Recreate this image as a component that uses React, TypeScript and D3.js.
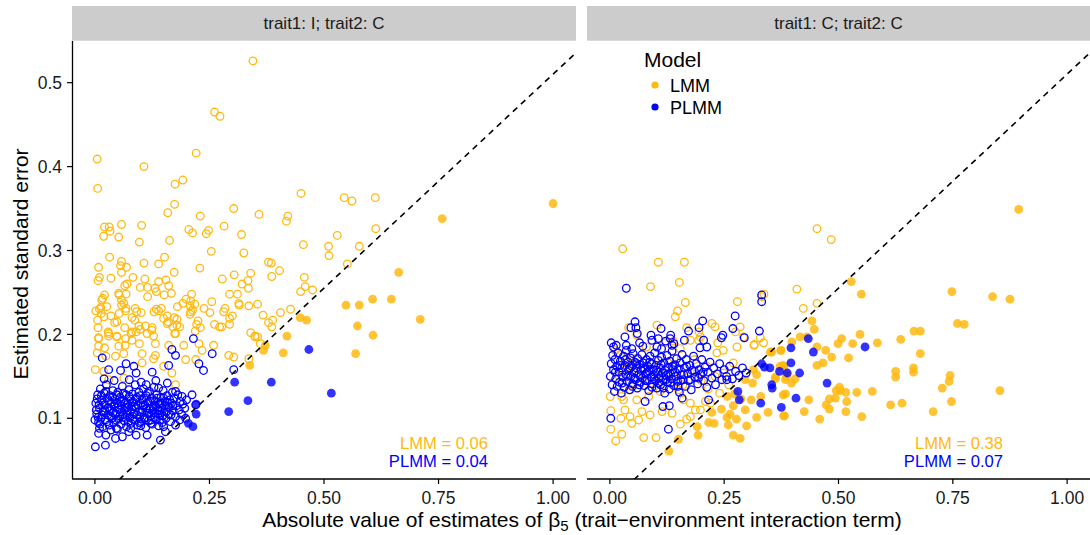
import * as d3 from 'd3';

// Absolute |beta5| estimate vs. its standard error.
// Each list is [estimate, standard error]; "Sig" lists are the filled (significant) points.

const panelLabels = ['trait1: I; trait2: C', 'trait1: C; trait2: C'];
const yTicks = [0.1, 0.2, 0.3, 0.4, 0.5];
const xTicks = [0, 0.25, 0.5, 0.75, 1];
const lmmShare = ['LMM = 0.06', 'LMM = 0.38'];
const plmmShare = ['PLMM = 0.04', 'PLMM = 0.07'];

const leftLmmOpen: [number, number][] = [
  [0.345, 0.526], [0.261, 0.465], [0.273, 0.46], [0.221, 0.416], [0.005, 0.409], [0.107, 0.4], [0.006, 0.374], [0.175, 0.379], [0.192, 0.384],
  [0.174, 0.355], [0.159, 0.345], [0.303, 0.35], [0.358, 0.343], [0.23, 0.341], [0.021, 0.328], [0.031, 0.328], [0.033, 0.323], [0.019, 0.317],
  [0.058, 0.331], [0.102, 0.33], [0.052, 0.316], [0.097, 0.31], [0.163, 0.312], [0.205, 0.325], [0.213, 0.321], [0.243, 0.32], [0.248, 0.324],
  [0.282, 0.329], [0.32, 0.319], [0.254, 0.299], [0.325, 0.297], [0.379, 0.286], [0.385, 0.285], [0.386, 0.269], [0.032, 0.292], [0.008, 0.28],
  [0.058, 0.287], [0.056, 0.282], [0.069, 0.28], [0.058, 0.274], [0.107, 0.285], [0.139, 0.284], [0.152, 0.292], [0.173, 0.274], [0.229, 0.279],
  [0.01, 0.268], [0.007, 0.264], [0.035, 0.267], [0.083, 0.268], [0.109, 0.266], [0.065, 0.258], [0.07, 0.26], [0.099, 0.256], [0.115, 0.256],
  [0.139, 0.263], [0.155, 0.265], [0.161, 0.258], [0.131, 0.255], [0.134, 0.251], [0.115, 0.245], [0.167, 0.249], [0.151, 0.247], [0.278, 0.266],
  [0.304, 0.271], [0.334, 0.264], [0.335, 0.255], [0.321, 0.26], [0.34, 0.273], [0.017, 0.243], [0.021, 0.247], [0.015, 0.241], [0.052, 0.249],
  [0.053, 0.247], [0.058, 0.241], [0.068, 0.248], [0.063, 0.237], [0.068, 0.231], [0.026, 0.233], [0.002, 0.228], [0.01, 0.23], [0.013, 0.232],
  [0.014, 0.225], [0.02, 0.221], [0.006, 0.217], [0.007, 0.208], [0.008, 0.195], [0.035, 0.222], [0.043, 0.214], [0.048, 0.215], [0.029, 0.203],
  [0.03, 0.198], [0.053, 0.225], [0.058, 0.235], [0.067, 0.228], [0.081, 0.22], [0.088, 0.231], [0.091, 0.227], [0.101, 0.226], [0.087, 0.217],
  [0.065, 0.208], [0.067, 0.195], [0.048, 0.198], [0.081, 0.203], [0.079, 0.201], [0.09, 0.203], [0.096, 0.21], [0.099, 0.206], [0.11, 0.21],
  [0.125, 0.208], [0.128, 0.198], [0.124, 0.205], [0.129, 0.227], [0.134, 0.23], [0.145, 0.231], [0.139, 0.228], [0.158, 0.222], [0.15, 0.219],
  [0.16, 0.215], [0.158, 0.213], [0.173, 0.22], [0.179, 0.218], [0.179, 0.211], [0.17, 0.209], [0.174, 0.201], [0.185, 0.209], [0.18, 0.233],
  [0.192, 0.237], [0.199, 0.242], [0.209, 0.24], [0.211, 0.248], [0.208, 0.234], [0.209, 0.227], [0.218, 0.236], [0.208, 0.224], [0.213, 0.229],
  [0.238, 0.231], [0.251, 0.226], [0.255, 0.239], [0.225, 0.216], [0.23, 0.208], [0.222, 0.212], [0.219, 0.204], [0.261, 0.212], [0.272, 0.209],
  [0.277, 0.209], [0.284, 0.231], [0.281, 0.227], [0.294, 0.248], [0.3, 0.222], [0.294, 0.219], [0.294, 0.212], [0.311, 0.248], [0.314, 0.237],
  [0.315, 0.235], [0.336, 0.234], [0.355, 0.236], [0.367, 0.223], [0.379, 0.214], [0.388, 0.217], [0.386, 0.209], [0.34, 0.202], [0.349, 0.198],
  [0.355, 0.197], [0.45, 0.368], [0.544, 0.363], [0.561, 0.359], [0.612, 0.363], [0.421, 0.341], [0.418, 0.335], [0.455, 0.307], [0.51, 0.305],
  [0.511, 0.294], [0.529, 0.318], [0.577, 0.305], [0.613, 0.326], [0.551, 0.284], [0.403, 0.276], [0.457, 0.268], [0.459, 0.257], [0.449, 0.251],
  [0.427, 0.23], [0.405, 0.226], [0.475, 0.253], [0.008, 0.196], [0.008, 0.186], [0.021, 0.184], [0.005, 0.178], [0.024, 0.174], [0.03, 0.201],
  [0.048, 0.197], [0.052, 0.186], [0.066, 0.187], [0.063, 0.177], [0.045, 0.174], [0.081, 0.193], [0.097, 0.189], [0.114, 0.201], [0.132, 0.189],
  [0.132, 0.175], [0.103, 0.177], [0.128, 0.171], [0.176, 0.201], [0.161, 0.187], [0.194, 0.187], [0.227, 0.189], [0.234, 0.181], [0.259, 0.187],
  [0.292, 0.175], [0.336, 0.171], [0.35, 0.197], [0.361, 0.189], [0.001, 0.158], [0.019, 0.156], [0.03, 0.146], [0.063, 0.148], [0.103, 0.166],
  [0.15, 0.162], [0.168, 0.154], [0.176, 0.14], [0.198, 0.17], [0.22, 0.17], [0.005, 0.11], [0.303, 0.173],
];

const leftLmmSig: [number, number][] = [
  [0.548, 0.235], [0.577, 0.235], [0.606, 0.242], [0.647, 0.242], [0.71, 0.218], [0.573, 0.21], [0.607, 0.199], [0.569, 0.177], [0.448, 0.22],
  [0.462, 0.217], [0.419, 0.198], [0.411, 0.178], [0.368, 0.181], [0.372, 0.187], [0.338, 0.163], [0.663, 0.274], [0.758, 0.338], [1.0, 0.356],
];

const leftPlmmOpen: [number, number][] = [
  [0.016, 0.172], [0.03, 0.158], [0.056, 0.157], [0.068, 0.165], [0.085, 0.162], [0.09, 0.154], [0.125, 0.155], [0.161, 0.163], [0.168, 0.182],
  [0.176, 0.175], [0.215, 0.195], [0.227, 0.165], [0.256, 0.177], [0.303, 0.158], [0.112, 0.14], [0.139, 0.136], [0.176, 0.132], [0.19, 0.126],
  [0.212, 0.128], [0.22, 0.116], [0.198, 0.1], [0.176, 0.092], [0.154, 0.084], [0.143, 0.074], [0.114, 0.08], [0.074, 0.084], [0.045, 0.076],
  [0.023, 0.068], [0.001, 0.066], [0.008, 0.082], [0.0, 0.098], [0.237, 0.157],
  [0.01, 0.088], [0.024, 0.08], [0.049, 0.087], [0.078, 0.088], [0.1, 0.091], [0.122, 0.094], [0.09, 0.08], [0.06, 0.078], [0.035, 0.086],
  [0.15, 0.09], [0.185, 0.098], [0.042, 0.145], [0.075, 0.146], [0.101, 0.143], [0.133, 0.145], [0.158, 0.142], [0.02, 0.147],
  [0.002, 0.118], [0.004, 0.105], [0.006, 0.128], [0.008, 0.095], [0.01, 0.112], [0.012, 0.135], [0.013, 0.1], [0.015, 0.122], [0.017, 0.09],
  [0.018, 0.108], [0.02, 0.13], [0.021, 0.116], [0.023, 0.098], [0.025, 0.14], [0.026, 0.124], [0.028, 0.104], [0.029, 0.113], [0.031, 0.092],
  [0.033, 0.127], [0.034, 0.109], [0.036, 0.119], [0.037, 0.1], [0.039, 0.133], [0.041, 0.095], [0.042, 0.114], [0.044, 0.123], [0.045, 0.105],
  [0.047, 0.088], [0.049, 0.118], [0.05, 0.131], [0.052, 0.099], [0.053, 0.11], [0.055, 0.125], [0.057, 0.093], [0.058, 0.115], [0.06, 0.138],
  [0.061, 0.104], [0.063, 0.121], [0.064, 0.097], [0.066, 0.112], [0.068, 0.128], [0.069, 0.09], [0.071, 0.107], [0.072, 0.117], [0.074, 0.134],
  [0.076, 0.101], [0.077, 0.123], [0.079, 0.094], [0.08, 0.111], [0.082, 0.129], [0.084, 0.105], [0.085, 0.119], [0.087, 0.098], [0.088, 0.14],
  [0.09, 0.113], [0.092, 0.125], [0.093, 0.092], [0.095, 0.108], [0.096, 0.131], [0.098, 0.102], [0.1, 0.118], [0.101, 0.096], [0.103, 0.122],
  [0.104, 0.11], [0.106, 0.135], [0.108, 0.1], [0.109, 0.116], [0.111, 0.089], [0.112, 0.127], [0.114, 0.106], [0.116, 0.119], [0.117, 0.097],
  [0.119, 0.132], [0.12, 0.111], [0.122, 0.103], [0.124, 0.124], [0.125, 0.093], [0.127, 0.114], [0.129, 0.137], [0.13, 0.107], [0.132, 0.12],
  [0.134, 0.098], [0.135, 0.128], [0.137, 0.11], [0.139, 0.091], [0.14, 0.117], [0.142, 0.104], [0.144, 0.125], [0.146, 0.112], [0.147, 0.095],
  [0.149, 0.133], [0.151, 0.108], [0.153, 0.12], [0.155, 0.1], [0.157, 0.127], [0.159, 0.114], [0.161, 0.105], [0.163, 0.122], [0.165, 0.096],
  [0.167, 0.118], [0.169, 0.131], [0.171, 0.109], [0.173, 0.124], [0.176, 0.102], [0.178, 0.115], [0.181, 0.128], [0.184, 0.11], [0.186, 0.12],
  [0.189, 0.105], [0.192, 0.117], [0.196, 0.112], [0.2, 0.122],
  [0.003, 0.11], [0.005, 0.123], [0.007, 0.101], [0.009, 0.116], [0.011, 0.093], [0.014, 0.127], [0.016, 0.104], [0.019, 0.119], [0.022, 0.109],
  [0.024, 0.132], [0.027, 0.096], [0.03, 0.121], [0.032, 0.111], [0.035, 0.102], [0.038, 0.125], [0.04, 0.107], [0.043, 0.117], [0.046, 0.098],
  [0.048, 0.128], [0.051, 0.113], [0.054, 0.103], [0.056, 0.12], [0.059, 0.108], [0.062, 0.13], [0.065, 0.101], [0.067, 0.118], [0.07, 0.113],
  [0.073, 0.096], [0.075, 0.126], [0.078, 0.108], [0.081, 0.119], [0.083, 0.099], [0.086, 0.114], [0.089, 0.123], [0.091, 0.104], [0.094, 0.116],
  [0.097, 0.095], [0.099, 0.127], [0.102, 0.107], [0.105, 0.115], [0.107, 0.124], [0.11, 0.101], [0.113, 0.112], [0.115, 0.13], [0.118, 0.106],
  [0.121, 0.12], [0.123, 0.098], [0.126, 0.109], [0.128, 0.121], [0.131, 0.101], [0.133, 0.114], [0.136, 0.124], [0.138, 0.105], [0.141, 0.109],
  [0.143, 0.098], [0.145, 0.118], [0.148, 0.103], [0.15, 0.124], [0.152, 0.115], [0.156, 0.108], [0.158, 0.119], [0.162, 0.113], [0.166, 0.104],
  [0.17, 0.115],
];

const leftPlmmSig: [number, number][] = [
  [0.467, 0.182], [0.305, 0.143], [0.385, 0.143], [0.516, 0.13], [0.334, 0.121], [0.292, 0.108], [0.221, 0.117], [0.221, 0.105], [0.204, 0.094],
  [0.214, 0.09],
];

const rightLmmOpen: [number, number][] = [
  [0.028, 0.302], [0.106, 0.286], [0.163, 0.286], [0.152, 0.262], [0.089, 0.257], [0.165, 0.238], [0.148, 0.228], [0.143, 0.221], [0.279, 0.239],
  [0.337, 0.248], [0.332, 0.245], [0.103, 0.211], [0.041, 0.208], [0.168, 0.208], [0.223, 0.213], [0.23, 0.209], [0.285, 0.209], [0.275, 0.203],
  [0.195, 0.203], [0.194, 0.193], [0.329, 0.196], [0.336, 0.19], [0.316, 0.188], [0.236, 0.19], [0.139, 0.192], [0.059, 0.199],
  [0.453, 0.326], [0.484, 0.313], [0.409, 0.254], [0.423, 0.231], [0.453, 0.237],
  [0.001, 0.126], [0.002, 0.109], [0.002, 0.087], [0.013, 0.073], [0.026, 0.081], [0.024, 0.1], [0.044, 0.102], [0.048, 0.094], [0.033, 0.11],
  [0.03, 0.122], [0.063, 0.098], [0.074, 0.077], [0.101, 0.077], [0.07, 0.108], [0.088, 0.104], [0.114, 0.108], [0.136, 0.106], [0.161, 0.122],
  [0.176, 0.118], [0.187, 0.11], [0.198, 0.11], [0.176, 0.102], [0.154, 0.093], [0.168, 0.099], [0.209, 0.12], [0.22, 0.118], [0.012, 0.181],
  [0.023, 0.176], [0.037, 0.17], [0.052, 0.158], [0.074, 0.15], [0.088, 0.142], [0.11, 0.132], [0.125, 0.146], [0.15, 0.134], [0.045, 0.134],
  [0.026, 0.126], [0.059, 0.122], [0.085, 0.126], [0.128, 0.166], [0.139, 0.154], [0.176, 0.154], [0.234, 0.178], [0.248, 0.181], [0.278, 0.185],
  [0.315, 0.187], [0.154, 0.183], [0.176, 0.193], [0.198, 0.197], [0.212, 0.162], [0.248, 0.154], [0.27, 0.166], [0.292, 0.197],
  [0.035, 0.16], [0.06, 0.172], [0.095, 0.165], [0.11, 0.15], [0.14, 0.172], [0.185, 0.17], [0.2, 0.145], [0.23, 0.15], [0.26, 0.14],
  [0.02, 0.15], [0.08, 0.185], [0.12, 0.19], [0.05, 0.14], [0.16, 0.14], [0.215, 0.135], [0.24, 0.13],
];

const rightLmmSig: [number, number][] = [
  [0.894, 0.349], [0.528, 0.263], [0.55, 0.248], [0.748, 0.251], [0.837, 0.245], [0.875, 0.242], [0.76, 0.213], [0.775, 0.212], [0.665, 0.204],
  [0.679, 0.204], [0.636, 0.194], [0.547, 0.2], [0.585, 0.19], [0.507, 0.195], [0.499, 0.189], [0.531, 0.189], [0.679, 0.177], [0.442, 0.216],
  [0.447, 0.206], [0.416, 0.197], [0.431, 0.197], [0.453, 0.185], [0.472, 0.181], [0.398, 0.191], [0.374, 0.181], [0.522, 0.172], [0.485, 0.173],
  [0.466, 0.166], [0.453, 0.163], [0.664, 0.16], [0.664, 0.155], [0.625, 0.156], [0.625, 0.149], [0.744, 0.151], [0.742, 0.144], [0.727, 0.136],
  [0.853, 0.133], [0.747, 0.12], [0.707, 0.108], [0.639, 0.118], [0.614, 0.116], [0.574, 0.132], [0.54, 0.131], [0.518, 0.12], [0.516, 0.131],
  [0.504, 0.133], [0.495, 0.133], [0.502, 0.137], [0.493, 0.124], [0.48, 0.123], [0.473, 0.116], [0.48, 0.111], [0.459, 0.099], [0.516, 0.108],
  [0.551, 0.102], [0.435, 0.122], [0.425, 0.108], [0.382, 0.103], [0.397, 0.142], [0.386, 0.149], [0.379, 0.163], [0.372, 0.162], [0.405, 0.147],
  [0.362, 0.149], [0.351, 0.179], [0.379, 0.128],
  [0.354, 0.179], [0.374, 0.181], [0.38, 0.162], [0.314, 0.158], [0.321, 0.152], [0.296, 0.146], [0.312, 0.142], [0.362, 0.147], [0.384, 0.146],
  [0.387, 0.152], [0.384, 0.129], [0.257, 0.126], [0.273, 0.129], [0.287, 0.123], [0.309, 0.122], [0.33, 0.126], [0.27, 0.115], [0.244, 0.111],
  [0.223, 0.107], [0.263, 0.105], [0.296, 0.11], [0.321, 0.101], [0.346, 0.107], [0.38, 0.103], [0.277, 0.099], [0.256, 0.101], [0.216, 0.095],
  [0.228, 0.094], [0.259, 0.092], [0.299, 0.091], [0.191, 0.09], [0.193, 0.08], [0.27, 0.08], [0.285, 0.076], [0.15, 0.075], [0.129, 0.061],
];

const rightPlmmOpen: [number, number][] = [
  [0.036, 0.255], [0.332, 0.247], [0.332, 0.239], [0.274, 0.222], [0.203, 0.216], [0.195, 0.208], [0.172, 0.204], [0.163, 0.193], [0.269, 0.207],
  [0.247, 0.199], [0.244, 0.196], [0.294, 0.196], [0.327, 0.204], [0.055, 0.215], [0.046, 0.208], [0.057, 0.208], [0.06, 0.201], [0.112, 0.207],
  [0.09, 0.199], [0.092, 0.193], [0.106, 0.195], [0.133, 0.199], [0.132, 0.195], [0.033, 0.197], [0.003, 0.19], [0.014, 0.187], [0.008, 0.185],
  [0.065, 0.19], [0.072, 0.186], [0.122, 0.192], [0.136, 0.187], [0.14, 0.189], [0.205, 0.193], [0.212, 0.185], [0.197, 0.184], [0.103, 0.185],
  [0.113, 0.183], [0.048, 0.183], [0.036, 0.187], [0.002, 0.1], [0.128, 0.087], [0.077, 0.12], [0.116, 0.114], [0.13, 0.115], [0.158, 0.124],
  [0.216, 0.122], [0.256, 0.146],
  [0.001, 0.15], [0.003, 0.165], [0.005, 0.14], [0.006, 0.175], [0.008, 0.158], [0.01, 0.132], [0.011, 0.17], [0.013, 0.147], [0.015, 0.162],
  [0.016, 0.138], [0.018, 0.178], [0.02, 0.155], [0.021, 0.143], [0.023, 0.168], [0.025, 0.13], [0.026, 0.16], [0.028, 0.149], [0.03, 0.174],
  [0.031, 0.137], [0.033, 0.163], [0.035, 0.152], [0.036, 0.181], [0.038, 0.144], [0.04, 0.167], [0.041, 0.157], [0.043, 0.134], [0.045, 0.172],
  [0.046, 0.15], [0.048, 0.162], [0.05, 0.141], [0.051, 0.177], [0.053, 0.155], [0.055, 0.167], [0.056, 0.146], [0.058, 0.16], [0.06, 0.136],
  [0.061, 0.171], [0.063, 0.152], [0.065, 0.164], [0.066, 0.143], [0.068, 0.157], [0.07, 0.176], [0.071, 0.148], [0.073, 0.166], [0.075, 0.139],
  [0.076, 0.159], [0.078, 0.153], [0.08, 0.17], [0.081, 0.145], [0.083, 0.162], [0.085, 0.133], [0.086, 0.156], [0.088, 0.174], [0.09, 0.149],
  [0.091, 0.165], [0.093, 0.141], [0.095, 0.158], [0.096, 0.152], [0.098, 0.178], [0.1, 0.145], [0.101, 0.163], [0.103, 0.136], [0.105, 0.155],
  [0.106, 0.169], [0.108, 0.148], [0.11, 0.16], [0.111, 0.14], [0.113, 0.173], [0.115, 0.154], [0.116, 0.146], [0.118, 0.166], [0.12, 0.13],
  [0.121, 0.157], [0.123, 0.151], [0.125, 0.175], [0.126, 0.143], [0.128, 0.161], [0.13, 0.135], [0.131, 0.168], [0.133, 0.153], [0.135, 0.147],
  [0.136, 0.18], [0.138, 0.158], [0.14, 0.139], [0.142, 0.164], [0.144, 0.15], [0.146, 0.171], [0.148, 0.144], [0.15, 0.159], [0.152, 0.131],
  [0.154, 0.166], [0.156, 0.152], [0.158, 0.176], [0.16, 0.146], [0.163, 0.16], [0.165, 0.138], [0.167, 0.17], [0.17, 0.153], [0.172, 0.145],
  [0.175, 0.163], [0.178, 0.134], [0.18, 0.157], [0.183, 0.174], [0.186, 0.149], [0.189, 0.165], [0.192, 0.141], [0.195, 0.158], [0.198, 0.152],
  [0.201, 0.17], [0.205, 0.145], [0.208, 0.161], [0.212, 0.137], [0.215, 0.155], [0.219, 0.167], [0.223, 0.148], [0.227, 0.16], [0.231, 0.14],
  [0.235, 0.153], [0.24, 0.165], [0.245, 0.146], [0.25, 0.158], [0.255, 0.15], [0.262, 0.162], [0.268, 0.147], [0.275, 0.156], [0.282, 0.151],
  [0.29, 0.16], [0.298, 0.154],
  [0.012, 0.155], [0.022, 0.163], [0.027, 0.142], [0.034, 0.17], [0.039, 0.15], [0.044, 0.16], [0.049, 0.138], [0.054, 0.148], [0.059, 0.165],
  [0.064, 0.14], [0.067, 0.15], [0.072, 0.16], [0.077, 0.145], [0.082, 0.155], [0.087, 0.167], [0.092, 0.137], [0.097, 0.147], [0.102, 0.157],
  [0.107, 0.142], [0.112, 0.164], [0.117, 0.136], [0.122, 0.146], [0.127, 0.153], [0.132, 0.142], [0.137, 0.162], [0.143, 0.155], [0.149, 0.138],
  [0.155, 0.145], [0.162, 0.152], [0.168, 0.162], [0.176, 0.146], [0.185, 0.156], [0.194, 0.148], [0.204, 0.155],
];

const rightPlmmSig: [number, number][] = [
  [0.558, 0.185], [0.396, 0.184], [0.445, 0.179], [0.434, 0.195], [0.396, 0.166], [0.371, 0.156], [0.388, 0.154], [0.415, 0.154], [0.475, 0.142],
  [0.407, 0.124], [0.375, 0.113], [0.354, 0.14], [0.35, 0.16], [0.332, 0.165], [0.338, 0.161], [0.28, 0.132], [0.283, 0.122], [0.33, 0.118],
  [0.355, 0.136],
];

const LMM_COL = '#FFB90F';
const PLMM_COL = '#0000FF';
const FONT = '"Liberation Sans", Arial, Helvetica, sans-serif';

const panels = [
  { x0: 72, x1: 576, lmmOpen: leftLmmOpen, lmmSig: leftLmmSig, plmmOpen: leftPlmmOpen, plmmSig: leftPlmmSig },
  { x0: 587, x1: 1090, lmmOpen: rightLmmOpen, lmmSig: rightLmmSig, plmmOpen: rightPlmmOpen, plmmSig: rightPlmmSig },
];

const TOP = 41;
const BOTTOM = 479;

export default function App() {
  const y = d3.scaleLinear().domain([0.02765, 0.5497]).range([BOTTOM, TOP]);
  const refLine = d3.range(0, 1.1, 0.05).map((v) => [v, v / 1.96]);

  return (
    <svg width={1090} height={535} style={{ display: 'block', position: 'absolute', left: 0, top: 0 }} fontFamily={FONT}>
      <rect width={1090} height={535} fill="white" />
      {panels.map((p, i) => {
        const x = d3.scaleLinear().domain([-0.05, 1.05]).range([p.x0, p.x1]);
        const line = d3.line<number[]>().x((d) => x(d[0])).y((d) => y(d[1]));
        const clipId = `clip-${i}`;
        return (
          <g key={i}>
            <defs>
              <clipPath id={clipId}>
                <rect x={p.x0} y={TOP} width={p.x1 - p.x0} height={BOTTOM - TOP} />
              </clipPath>
            </defs>
            {/* strip */}
            <rect x={p.x0} y={6} width={p.x1 - p.x0} height={34.7} fill="#CCCCCC" />
            <text x={(p.x0 + p.x1) / 2} y={29} textAnchor="middle" fontSize={17} fill="#1a1a1a">
              {panelLabels[i]}
            </text>
            <g clipPath={`url(#${clipId})`}>
              {p.lmmOpen.map((d, k) => (
                <circle key={'lo' + k} cx={x(d[0])} cy={y(d[1])} r={3.8} fill="none" stroke={LMM_COL} strokeWidth={1.3} />
              ))}
              {p.lmmSig.map((d, k) => (
                <circle key={'ls' + k} cx={x(d[0])} cy={y(d[1])} r={4.4} fill={LMM_COL} fillOpacity={0.85} />
              ))}
              {p.plmmOpen.map((d, k) => (
                <circle key={'po' + k} cx={x(d[0])} cy={y(d[1])} r={3.8} fill="none" stroke={PLMM_COL} strokeWidth={1.3} />
              ))}
              {p.plmmSig.map((d, k) => (
                <circle key={'ps' + k} cx={x(d[0])} cy={y(d[1])} r={4.4} fill={PLMM_COL} fillOpacity={0.8} />
              ))}
              <path d={line(refLine) || ''} fill="none" stroke="black" strokeWidth={1.6} strokeDasharray="6,5" />
            </g>
            {/* x axis */}
            <line x1={p.x0} x2={p.x1} y1={BOTTOM} y2={BOTTOM} stroke="black" strokeWidth={1.3} />
            {xTicks.map((t) => (
              <g key={t}>
                <line x1={x(t)} x2={x(t)} y1={BOTTOM} y2={BOTTOM + 5} stroke="black" strokeWidth={1.2} />
                <text x={x(t)} y={503.5} textAnchor="middle" fontSize={17.5} fill="#1a1a1a">
                  {d3.format('.2f')(t)}
                </text>
              </g>
            ))}
            <text x={p.x0 + 416} y={448.5} textAnchor="end" fontSize={16.6} fill={LMM_COL}>
              {lmmShare[i]}
            </text>
            <text x={p.x0 + 416} y={466.5} textAnchor="end" fontSize={16.6} fill={PLMM_COL}>
              {plmmShare[i]}
            </text>
          </g>
        );
      })}
      {/* y axis (left panel only) */}
      <line x1={72.5} x2={72.5} y1={TOP} y2={BOTTOM} stroke="black" strokeWidth={1.3} />
      {yTicks.map((t) => (
        <g key={t}>
          <line x1={67} x2={72.5} y1={y(t)} y2={y(t)} stroke="black" strokeWidth={1.2} />
          <text x={62} y={y(t) + 6.2} textAnchor="end" fontSize={17.5} fill="#1a1a1a">
            {t.toFixed(1)}
          </text>
        </g>
      ))}
      <text transform={`translate(28,${(TOP + BOTTOM) / 2 + 4}) rotate(-90)`} textAnchor="middle" fontSize={21}>
        Estimated standard error
      </text>
      <text x={582} y={526.5} textAnchor="middle" fontSize={21}>
        Absolute value of estimates of β<tspan fontSize={15} dy={4}>5</tspan>
        <tspan dy={-4}> (trait−environment interaction term)</tspan>
      </text>
      {/* legend */}
      <text x={644} y={67} fontSize={21}>Model</text>
      <circle cx={655} cy={85} r={3.6} fill={LMM_COL} />
      <text x={670} y={91.5} fontSize={18}>LMM</text>
      <circle cx={655} cy={107} r={3.6} fill={PLMM_COL} />
      <text x={670} y={113.5} fontSize={18}>PLMM</text>
    </svg>
  );
}
